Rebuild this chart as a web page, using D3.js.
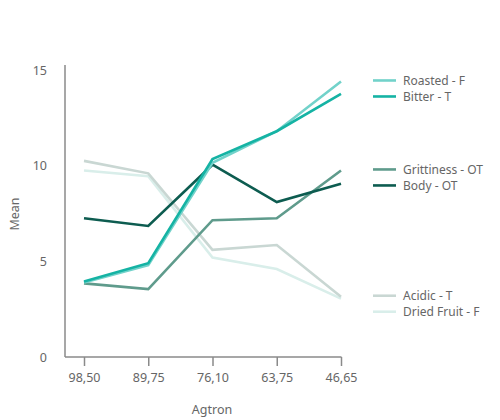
<!DOCTYPE html>
<html><head><meta charset="utf-8">
<script src="https://cdn.jsdelivr.net/npm/d3@7/dist/d3.min.js"></script>
<style>body{margin:0;background:#fff;} text{font-family:"Noto Sans", sans-serif;}</style>
</head><body>
<svg id="chart" width="500" height="420"></svg>
<script>
const categories = ["98,50","89,75","76,10","63,75","46,65"];
const roasted = [3.9, 4.8, 10.15, 11.8, 14.4];
const bitter = [3.95, 4.9, 10.35, 11.8, 13.75];
const grittiness = [3.85, 3.55, 7.15, 7.25, 9.75];
const body = [7.25, 6.85, 10.05, 8.1, 9.05];
const acidic = [10.25, 9.6, 5.6, 5.85, 3.15];
const driedFruit = [9.75, 9.45, 5.2, 4.6, 3.05];
const yTicks = [0, 5, 10, 15];

const series = [
  {name:"Roasted - F", values: roasted, color:"#72d2ca", group:0},
  {name:"Bitter - T", values: bitter, color:"#15b3a4", group:0},
  {name:"Grittiness - OT", values: grittiness, color:"#5f9b8c", group:1},
  {name:"Body - OT", values: body, color:"#0d5c50", group:1},
  {name:"Acidic - T", values: acidic, color:"#c9d7d3", group:2},
  {name:"Dried Fruit - F", values: driedFruit, color:"#d9eeea", group:2}
];
const drawOrder = [5,4,2,3,0,1];

const svg = d3.select("#chart");
const x = d3.scalePoint().domain(categories).range([84, 341]);
const y = d3.scaleLinear().domain([0, 15]).range([357, 70]);
const txt = "#666";
const fs = 12.5;

svg.append("line").attr("x1",65).attr("x2",65).attr("y1",65).attr("y2",357)
  .attr("stroke","#8a8a8a").attr("stroke-width",1.5);
svg.append("line").attr("x1",65).attr("x2",341.5).attr("y1",357).attr("y2",357)
  .attr("stroke","#8a8a8a").attr("stroke-width",1.5);

const xAxis = svg.append("g").attr("transform","translate(0,357)")
  .call(d3.axisBottom(x).tickSize(9).tickPadding(7));
xAxis.select(".domain").remove();
xAxis.selectAll("line").attr("stroke","#8a8a8a").attr("stroke-width",1.5);
xAxis.selectAll("text").attr("fill",txt).attr("font-size",fs).attr("font-family","'Noto Sans', sans-serif");

const yAxis = svg.append("g").attr("transform","translate(47,0)")
  .call(d3.axisLeft(y).tickValues(yTicks).tickSize(0).tickPadding(0));
yAxis.select(".domain").remove();
yAxis.selectAll("text").attr("fill",txt).attr("font-size",fs).attr("font-family","'Noto Sans', sans-serif");

svg.append("text").attr("x",212).attr("y",414).attr("text-anchor","middle")
  .attr("fill",txt).attr("font-size",fs).text("Agtron");
svg.append("text").attr("transform","translate(19,214) rotate(-90)").attr("text-anchor","middle")
  .attr("fill",txt).attr("font-size",fs).text("Mean");

const line = d3.line().x((d,i)=>x(categories[i])).y(d=>y(d));
drawOrder.forEach(i=>{
  const s = series[i];
  svg.append("path").attr("d", line(s.values)).attr("fill","none")
    .attr("stroke", s.color).attr("stroke-width",2.6).attr("stroke-linejoin","miter");
});

const groupFirst = [0,2,4];
const rowGap = 16;
series.forEach((s,i)=>{
  const first = series[groupFirst[s.group]];
  const gy = y(first.values[first.values.length-1]) - 1 + (i === groupFirst[s.group] ? 0 : rowGap);
  svg.append("line").attr("x1",373).attr("x2",396).attr("y1",gy).attr("y2",gy)
    .attr("stroke",s.color).attr("stroke-width",2.6);
  svg.append("text").attr("x",403).attr("y",gy).attr("dy","0.35em")
    .attr("fill",txt).attr("font-size",12).text(s.name);
});
</script>
</body></html>
